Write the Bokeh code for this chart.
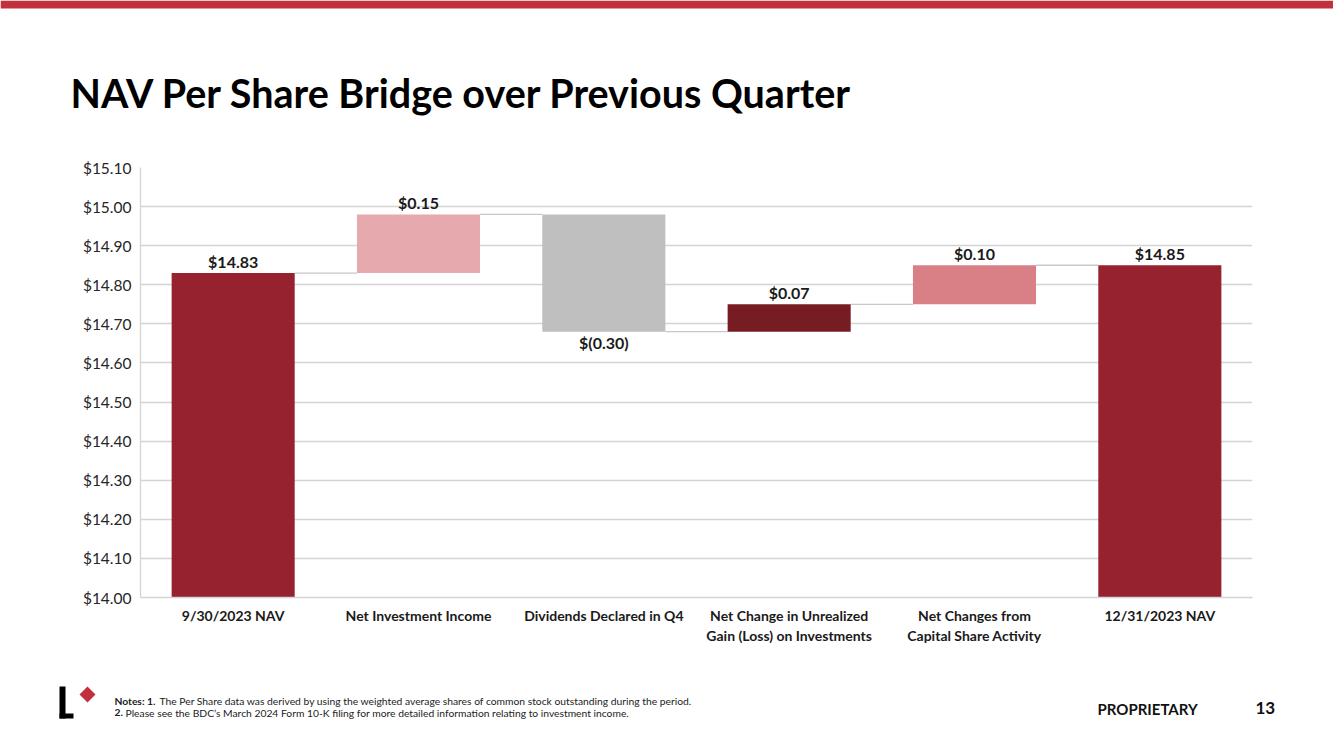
from bokeh.plotting import figure
from bokeh.layouts import column
from bokeh.models import (Range1d, FixedTicker, NumeralTickFormatter, Label,
                          ColumnDataSource)
from bokeh.core.properties import value
from bokeh.embed import file_html
from bokeh.resources import INLINE

# ---------------- data ----------------
categories = ["9/30/2023 NAV", "Net Investment Income", "Dividends Declared in Q4",
              "Net Change in Unrealized\nGain (Loss) on Investments",
              "Net Changes from\nCapital Share Activity", "12/31/2023 NAV"]
start_nav = 14.83
changes = [0.15, -0.30, 0.07, 0.10]
end_nav = 14.85
value_labels = ["$14.83", "$0.15", "$(0.30)", "$0.07", "$0.10", "$14.85"]
bar_colors = ["#95222E", "#E5A9AE", "#BFBFBF", "#771C23", "#D98087", "#95222E"]
y_ticks = [14.0, 14.1, 14.2, 14.3, 14.4, 14.5, 14.6, 14.7, 14.8, 14.9, 15.0, 15.1]

title_text = "NAV Per Share Bridge over Previous Quarter"
note1_bold, note1 = "Notes: 1.", "The Per Share data was derived by using the weighted average shares of common stock outstanding during the period."
note2_bold, note2 = "2.", "Please see the BDC\u2019s March 2024 Form 10-K filing for more detailed information relating to investment income."

FONT = "Lato"
W = 1333
HEAD_H = 155          # page rows 0..155
MAIN_TOP = 155
FT, FB = 167, 597     # chart frame rows on the page
FL, FR = 140, 1252
MAIN_BOT = 662
FOOT_H = 749 - MAIN_BOT


def blank(height, y_top):
    f = figure(width=W, height=height, output_backend="svg", toolbar_location=None,
               x_range=Range1d(0, W), y_range=Range1d(y_top + height, y_top),
               min_border=0, x_axis_type=None, y_axis_type=None, frame_align=False)
    f.outline_line_color = None
    f.grid.grid_line_color = None
    f.background_fill_color = "white"
    f.border_fill_color = "white"
    return f


def txt(f, x, y, s, size, bold=False, color="#000000", align="left", baseline="alphabetic"):
    f.text(x=[x], y=[y], text=[s], text_font=value(FONT),
           text_font_style="bold" if bold else "normal", text_font_size=size,
           text_color=color, text_align=align, text_baseline=baseline)


# ---------------- header ----------------
head = blank(HEAD_H, 0)
head.quad(left=[0], right=[W], top=[0], bottom=[8], fill_color="#C2303C", line_color=None)
txt(head, 70, 92, title_text, "39.5px", bold=True)

# ---------------- chart ----------------
bottoms, tops = [14.0], [start_nav]
level = start_nav
for c in changes:
    nxt = level + c
    bottoms.append(min(level, nxt)); tops.append(max(level, nxt))
    level = nxt
bottoms.append(14.0); tops.append(end_nav)
xs = list(range(len(categories)))

p = figure(width=W, height=MAIN_BOT - MAIN_TOP, output_backend="svg", toolbar_location=None,
           x_range=Range1d(-0.5, 5.5), y_range=Range1d(14.0, 15.1),
           min_border_left=FL, min_border_right=W - FR,
           min_border_top=FT - MAIN_TOP, min_border_bottom=MAIN_BOT - FB,
           frame_align=False)
p.outline_line_color = None
p.xgrid.grid_line_color = None
p.ygrid.grid_line_color = "#D4D4D4"
p.ygrid.grid_line_width = 1.3

p.yaxis.ticker = FixedTicker(ticks=y_ticks)
p.yaxis.formatter = NumeralTickFormatter(format="$0.00")
p.yaxis.major_label_text_font = FONT
p.yaxis.major_label_text_font_size = "15.5px"
p.yaxis.major_label_text_color = "#262626"
p.yaxis.major_label_standoff = 9
p.yaxis.major_tick_out = 0
p.yaxis.major_tick_in = 0
p.yaxis.axis_line_color = "#D4D4D4"
p.yaxis.axis_line_width = 1.3
p.yaxis.major_tick_line_color = None
p.yaxis.minor_tick_line_color = None

p.xaxis.ticker = FixedTicker(ticks=xs)
p.xaxis.major_label_overrides = {i: c for i, c in enumerate(categories)}
p.xaxis.major_label_text_font = FONT
p.xaxis.major_label_text_font_style = "bold"
p.xaxis.major_label_text_font_size = "14px"
p.xaxis.major_label_text_color = "#1a1a1a"
p.xaxis.major_label_standoff = 9
p.xaxis.major_tick_out = 0
p.xaxis.major_tick_in = 0
p.xaxis.axis_line_color = "#D4D4D4"
p.xaxis.axis_line_width = 1.3
p.xaxis.major_tick_line_color = None
p.xaxis.minor_tick_line_color = None

# connectors between consecutive bars
cx0, cx1, cy = [], [], []
lvl = start_nav
for i in range(len(categories) - 1):
    if i > 0:
        lvl = lvl + changes[i - 1]
    cx0.append(i + 0.332); cx1.append(i + 1 - 0.332); cy.append(lvl)
p.segment(x0=cx0, y0=cy, x1=cx1, y1=cy, line_color="#C8C8C8", line_width=1.3)

src = ColumnDataSource(dict(x=xs, bottom=bottoms, top=tops, color=bar_colors))
p.vbar(x="x", bottom="bottom", top="top", width=0.664, fill_color="color",
       line_color=None, source=src)

deltas = [start_nav] + changes + [end_nav]
for i, (d, lab) in enumerate(zip(deltas, value_labels)):
    if d >= 0:
        p.add_layout(Label(x=i, y=tops[i], text=lab, text_align="center",
                           text_baseline="bottom", y_offset=2,
                           text_font=FONT, text_font_style="bold",
                           text_font_size="16px", text_color="#1a1a1a"))
    else:
        p.add_layout(Label(x=i, y=bottoms[i], text=lab, text_align="center",
                           text_baseline="top", y_offset=-1,
                           text_font=FONT, text_font_style="bold",
                           text_font_size="16px", text_color="#1a1a1a"))

# ---------------- footer ----------------
foot = blank(FOOT_H, MAIN_BOT)
foot.quad(left=[59, 59], right=[65, 73], top=[686, 713], bottom=[718, 718],
          fill_color="#000000", line_color=None)
foot.patch(x=[87, 95, 87, 79], y=[686, 694, 702, 694], fill_color="#C2303C", line_color=None)
txt(foot, 114, 700, note1_bold, "10.3px", bold=True, color="#222222")
txt(foot, 159, 700, note1, "10.3px", color="#222222")
txt(foot, 114, 712, note2_bold, "10.3px", bold=True, color="#222222")
txt(foot, 125, 712, note2, "10.3px", color="#222222")
txt(foot, 1097, 708, "PROPRIETARY", "15px", bold=True, color="#111111")
txt(foot, 1255, 707, "13", "17px", bold=True, color="#111111")

layout = column(head, p, foot, spacing=0)
html = file_html(layout, INLINE)
html = html.replace("<body>", '<body style="margin:0;overflow:hidden">', 1)
open("out.html", "w").write(html)
